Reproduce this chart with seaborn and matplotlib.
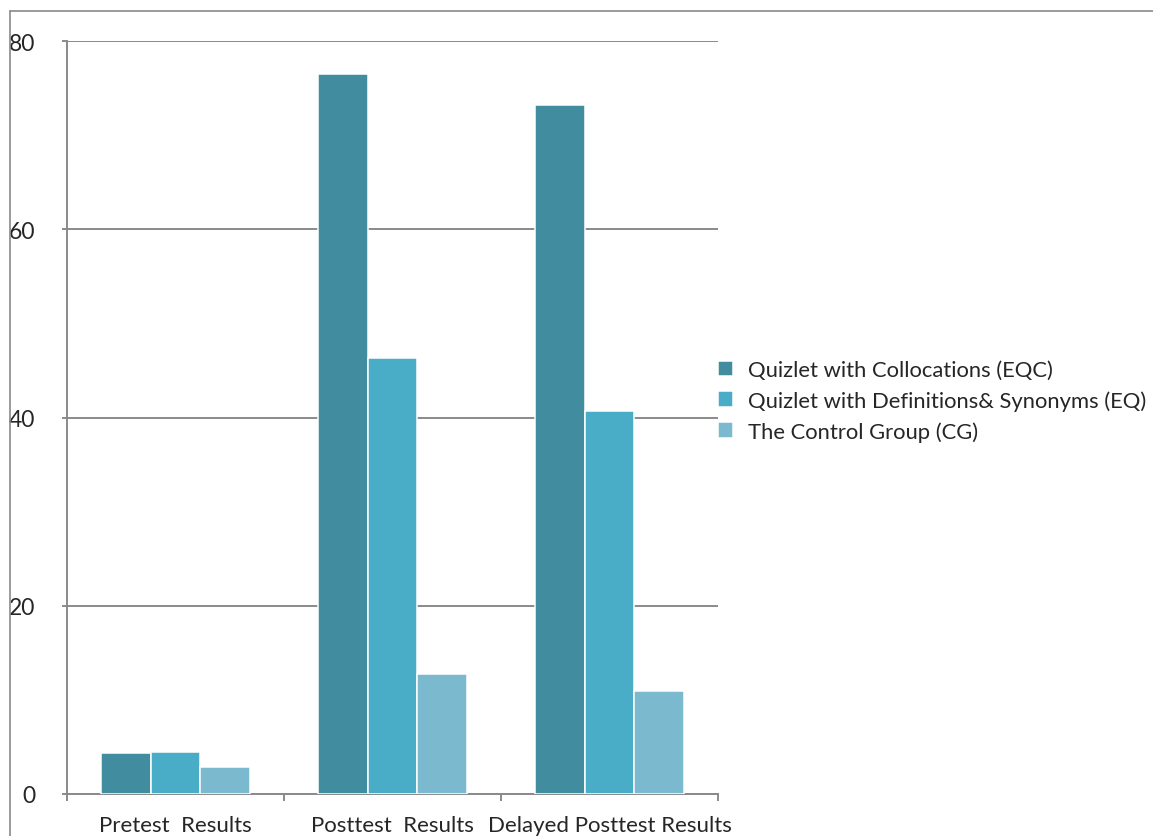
import matplotlib
matplotlib.use("Agg")
import matplotlib.pyplot as plt
import seaborn as sns
import pandas as pd
from matplotlib.lines import Line2D

categories = ["Pretest  Results", "Posttest  Results", "Delayed  Posttest Results"]
groups = ["Quizlet with Collocations (EQC)",
          "Quizlet with Definitions& Synonyms (EQ)",
          "The Control Group (CG)"]
eqc = [4.4, 76.5, 73.2]
eq = [4.5, 46.3, 40.7]
cg = [2.9, 12.8, 10.9]
colors = ["#428C9F", "#4AADC8", "#7BB9CF"]
yticks = [0, 20, 40, 60, 80]

rows = []
for g, vals in zip(groups, [eqc, eq, cg]):
    for c, v in zip(categories, vals):
        rows.append({"cat": c, "group": g, "value": v})
df = pd.DataFrame(rows)

sns.set_theme(style="white")
plt.rcParams["font.family"] = ["Lato", "DejaVu Sans"]

GRAY = "#8a8a8a"
LW = 1.4

fig = plt.figure(figsize=(11.53, 8.37), dpi=100)
ax = fig.add_axes([0.0581, 0.0502, 0.5646, 0.8996])

sns.barplot(data=df, x="cat", y="value", hue="group", hue_order=groups,
            order=categories, palette=colors, width=0.69, ax=ax,
            edgecolor="white", linewidth=1.1, saturation=1, errorbar=None,
            zorder=3)

ax.set_xlim(-0.5, 2.5)
ax.set_ylim(0, 80)
ax.set_yticks(yticks)
ax.set_yticklabels([str(t) for t in yticks], fontsize=16.5)
ax.yaxis.grid(True, color=GRAY, linewidth=LW, zorder=0)
ax.set_axisbelow(True)
ax.tick_params(axis="y", length=3.6, width=LW, color=GRAY, pad=19, left=True)

ax.set_xticks([-0.5, 0.5, 1.5, 2.5])
ax.set_xticklabels([])
ax.tick_params(axis="x", length=5, width=LW, color=GRAY, bottom=True)
for i, c in enumerate(categories):
    ax.text(i, -2.2, c.replace("  Posttest", " Posttest"), ha="center", va="top",
            fontsize=16, transform=ax.transData, clip_on=False)

for s in ["top", "right"]:
    ax.spines[s].set_visible(False)
for s in ["left", "bottom"]:
    ax.spines[s].set_color(GRAY)
    ax.spines[s].set_linewidth(LW)

ax.set_xlabel("")
ax.set_ylabel("")

leg = ax.legend(loc="center left", bbox_to_anchor=(0.986, 0.522), frameon=False,
                fontsize=15.8, handlelength=0.72, handleheight=0.72,
                handletextpad=0.68, labelspacing=0.46, borderaxespad=0)

# figure frame
fig.add_artist(Line2D([10/1153, 10/1153], [0, 1 - 12/837], color=GRAY,
                      linewidth=1.2, transform=fig.transFigure))
fig.add_artist(Line2D([10/1153, 1], [1 - 12/837, 1 - 12/837], color=GRAY,
                      linewidth=1.2, transform=fig.transFigure))

fig.savefig("out.png", dpi=100)
